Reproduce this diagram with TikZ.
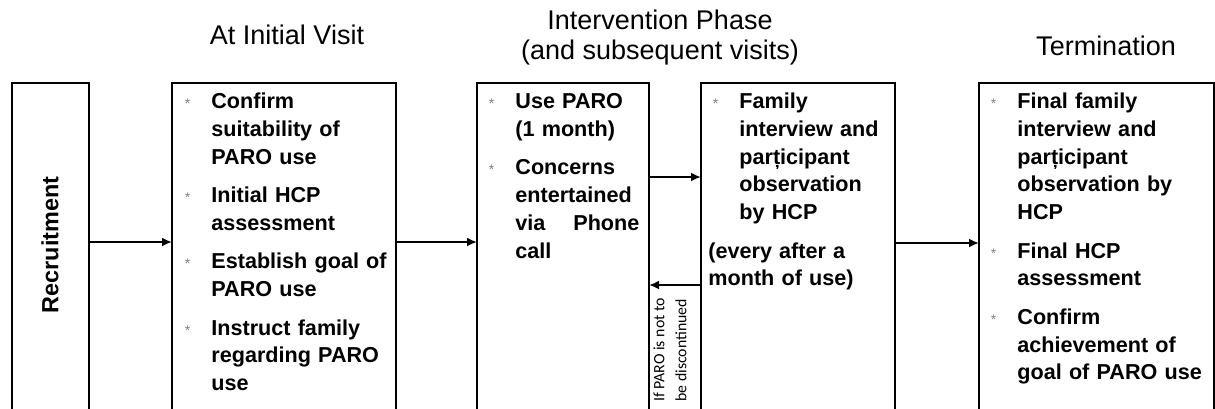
\documentclass[tikz,border=0pt]{standalone}
\usepackage{fontspec}
\setmainfont{Liberation Sans}
\newfontfamily\carl{Carlito}
\usetikzlibrary{arrows.meta}
\newcommand\mybul{\leavevmode\llap{\textcolor{gray}{\mdseries\fontsize{7}{7}\selectfont *}\hspace{10.5pt}}}
\begin{document}
\begin{tikzpicture}[x=0.5pt,y=-0.5pt,
  box/.style={draw,line width=1pt,anchor=north west,inner sep=0pt,outer sep=0pt,minimum height=173.5pt},
  item/.style={anchor=base west,inner sep=0pt,text width=115pt,align=left,font=\bfseries\fontsize{10.8}{13.875}\selectfont},
  head/.style={font=\fontsize{13.5}{15}\selectfont,anchor=base,inner sep=0pt,align=center},
  arr/.style={line width=1pt,-{Latex[length=5pt,width=4.5pt]}}]
\clip (0,0) rectangle (1215,408);
% boxes
\node[box,minimum width=38.5pt] (rec) at (12,83) {};
\node[box,minimum width=112pt] (b2) at (172,83) {};
\node[box,minimum width=86pt] (b3) at (477,83) {};
\node[box,minimum width=97pt] (b4) at (701,83) {};
\node[box,minimum width=117.5pt] (b5) at (979,83) {};
% headers
\node[head] (h1) at (287,44) {At Initial Visit};
\node[head] (h2) at (660,59) {Intervention Phase\\(and subsequent visits)};
\node[head] (h3) at (1106,55) {Termination};
% recruitment
\node[font=\bfseries\fontsize{11.7}{12}\selectfont,rotate=90,inner sep=0pt] (rect) at (50,245) {Recruitment};
% box 2
\node[item] (b2a) at (211,108.5) {\mybul Confirm\\suitability of\\PARO use};
\node[item] (b2b) at (211,202.5) {\mybul Initial HCP\\assessment};
\node[item] (b2c) at (211,268.75) {\mybul Establish goal of\\PARO use};
\node[item] (b2d) at (211,335) {\mybul Instruct family\\regarding PARO\\use};
% box 3
\node[item] (b3a) at (515,108.5) {\mybul Use PARO\\(1 month)};
\node[item,text width=62pt] (b3b) at (515,174.75) {\mybul Concerns\\entertained\\via\hfill Phone\\call};
% box 4
\node[item] (b4a) at (739,108.5) {\mybul Family\\interview and\\parțicipant\\observation\\by HCP};
\node[item] (b4b) at (708,258) {(every after a\\month of use)};
% box 5
\node[item] (b5a) at (1017,108.5) {\mybul Final family\\interview and\\parțicipant\\observation by\\HCP};
\node[item] (b5b) at (1017,258) {\mybul Final HCP\\assessment};
\node[item] (b5c) at (1017,324.25) {\mybul Confirm\\achievement of\\goal of PARO use};
% condition label
\node[rotate=90,anchor=north west,inner sep=0pt,align=left,font=\carl\fontsize{7.9}{11}\selectfont] (cond) at (653,402) {If PARO is not to\\be discontinued};
% arrows
\coordinate (ya) at (0,242);
\coordinate (yb) at (0,177);
\coordinate (yc) at (0,285);
\coordinate (yd) at (0,243);
\draw[arr] (rec.east |- ya) -- (b2.west |- ya);
\draw[arr] (b2.east |- ya) -- (b3.west |- ya);
\draw[arr] (b3.east |- yb) -- (b4.west |- yb);
\draw[arr] (b4.west |- yc) -- (b3.east |- yc);
\draw[arr] (b4.east |- yd) -- (b5.west |- yd);
\end{tikzpicture}
\end{document}
